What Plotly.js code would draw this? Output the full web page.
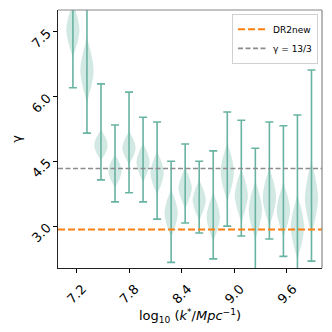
<!DOCTYPE html>
<html>
<head>
<meta charset="utf-8">
<script src="https://cdn.plot.ly/plotly-3.0.1.min.js"></script>
<style>
html, body { margin: 0; padding: 0; background: #fff; }
#tester { width: 332px; height: 332px; }
</style>
</head>
<body>
<div id="tester"></div>
<script>
// bin centres, log10(k*/Mpc^-1)
let bin_positions = [7.16, 7.32, 7.48, 7.64, 7.80, 7.96, 8.12, 8.28, 8.44, 8.60, 8.76, 8.92, 9.08, 9.24, 9.40, 9.56, 9.72, 9.88];

// extrema of gamma in each bin (caps)
let gamma_min = [6.20, 5.15, 4.07, 3.56, 3.77, 3.56, 3.16, 2.16, 3.07, 2.84, 2.24, 3.00, 2.77, 1.80, 2.70, 2.30, 1.80, 2.19];
let gamma_max = [8.40, 8.30, 6.29, 5.34, 6.10, 5.52, 5.41, 4.50, 4.90, 4.50, 4.74, 5.64, 5.45, 4.80, 5.41, 5.32, 5.57, 6.61];

// samples for the violin bodies, one list per bin
let gamma_samples = [
	[7.15, 7.32, 7.44, 7.54, 7.64, 7.76, 7.93],
	[6.15, 6.35, 6.49, 6.61, 6.73, 6.87, 7.07],
	[4.65, 4.74, 4.81, 4.87, 4.93, 5.00, 5.09],
	[4.03, 4.13, 4.21, 4.27, 4.33, 4.41, 4.51],
	[4.57, 4.67, 4.75, 4.81, 4.87, 4.95, 5.05],
	[4.19, 4.31, 4.40, 4.47, 4.54, 4.63, 4.75],
	[3.92, 4.05, 4.15, 4.23, 4.31, 4.41, 4.54],
	[2.95, 3.10, 3.21, 3.30, 3.39, 3.50, 3.65],
	[3.59, 3.71, 3.81, 3.88, 3.95, 4.05, 4.17],
	[3.31, 3.43, 3.53, 3.60, 3.67, 3.77, 3.89],
	[2.86, 3.01, 3.12, 3.21, 3.30, 3.41, 3.56],
	[3.83, 4.01, 4.14, 4.25, 4.36, 4.49, 4.67],
	[3.33, 3.49, 3.62, 3.71, 3.80, 3.93, 4.09],
	[2.95, 3.13, 3.26, 3.37, 3.48, 3.61, 3.79],
	[3.25, 3.43, 3.56, 3.67, 3.78, 3.91, 4.09],
	[2.98, 3.15, 3.27, 3.37, 3.47, 3.59, 3.76],
	[2.52, 2.72, 2.86, 2.98, 3.10, 3.24, 3.44],
	[3.12, 3.35, 3.52, 3.65, 3.78, 3.95, 4.18]
];
let kde_bandwidth = [0.14, 0.17, 0.08, 0.085, 0.085, 0.10, 0.11, 0.125, 0.105, 0.105, 0.125, 0.15, 0.135, 0.15, 0.15, 0.14, 0.165, 0.19];

// reference lines
let gamma_dr2new = 2.92;
let gamma_theory = 13 / 3;

let x_tick_vals = [7.2, 7.8, 8.4, 9.0, 9.6];
let x_tick_text = ['7.2', '7.8', '8.4', '9.0', '9.6'];
let y_tick_vals = [3.0, 4.5, 6.0, 7.5];
let y_tick_text = ['3.0', '4.5', '6.0', '7.5'];

let x_range = [6.99, 10.0];
let y_range = [2.03, 8.0];

let teal = '#69b3a2';

let plotData = [];

for( i = 0 ; i < bin_positions.length ; i++ )
{
	plotData.push
	(
		{
			type: 'violin',
			x0: bin_positions[i],
			y: gamma_samples[i],
			orientation: 'v',
			width: 0.15,
			scalemode: 'width',
			bandwidth: kde_bandwidth[i],
			spanmode: 'manual',
			span: [gamma_min[i], gamma_max[i]],
			points: false,
			box: {visible: false},
			meanline: {visible: false},
			line: {width: 0, color: 'rgba(105,179,162,0)'},
			fillcolor: 'rgba(105,179,162,0.3)',
			showlegend: false,
			hoverinfo: 'skip'
		}
	)
}

// extrema bars with caps
let bar_len = [];
let bar_zero = [];
for( i = 0 ; i < gamma_min.length ; i++ )
{
	bar_len.push(gamma_max[i] - gamma_min[i]);
	bar_zero.push(0);
}

plotData.push
(
	{
		type: 'scatter',
		mode: 'markers',
		x: bin_positions,
		y: gamma_min,
		marker: {size: 1, color: 'rgba(0,0,0,0)'},
		error_y: {type: 'data', symmetric: false, array: bar_len, arrayminus: bar_zero, color: teal, thickness: 1.6, width: 4},
		showlegend: false,
		hoverinfo: 'skip'
	}
)

plotData.push
(
	{
		type: 'scatter',
		mode: 'lines',
		name: 'DR2new',
		x: x_range,
		y: [gamma_dr2new, gamma_dr2new],
		line: {color: '#ff7f0e', width: 2, dash: '7px,3px'}
	}
)

plotData.push
(
	{
		type: 'scatter',
		mode: 'lines',
		name: 'γ = 13/3',
		x: x_range,
		y: [gamma_theory, gamma_theory],
		line: {color: '#8c8c8c', width: 1.6, dash: '5px,2.5px'}
	}
)

target_div = document.getElementById('tester');

let layout =
{
	width: 332,
	height: 332,
	paper_bgcolor: '#fff',
	plot_bgcolor: '#fff',
	font: {family: 'DejaVu Sans', color: '#000', size: 12},
	violinmode: 'overlay',
	margin: {l: 58, r: 10, t: 10, b: 64, pad: 0},
	xaxis: {
		type: 'linear', range: x_range, tickvals: x_tick_vals, ticktext: x_tick_text,
		tickangle: -45, ticks: 'outside', ticklen: 4, tickcolor: '#000', tickwidth: 1,
		showline: true, linecolor: '#222', linewidth: 1.2, showgrid: false, zeroline: false,
		tickfont: {size: 13}, ticklabelshift: 6, ticklabelstandoff: 3,
		title: {text: 'log<sub>10</sub> (<i>k</i><sup>*</sup>/<i>Mpc</i><sup>−1</sup>)', font: {size: 13}, standoff: 2}
	},
	yaxis: {
		type: 'linear', range: y_range, tickvals: y_tick_vals, ticktext: y_tick_text,
		tickangle: -45, ticks: 'outside', ticklen: 4, tickcolor: '#000', tickwidth: 1,
		showline: true, linecolor: '#222', linewidth: 1.2, showgrid: false, zeroline: false,
		tickfont: {size: 13}, ticklabelstandoff: 3,
		title: {text: 'γ', font: {size: 13}, standoff: 4}
	},
	shapes: [
		{type: 'line', xref: 'paper', yref: 'paper', x0: 0, x1: 1, y0: 1, y1: 1, line: {color: '#888', width: 1.2}},
		{type: 'line', xref: 'paper', yref: 'paper', x0: 1, x1: 1, y0: 0, y1: 1, line: {color: '#888', width: 1.2}}
	],
	legend: {
		x: 0.985, y: 0.985, xanchor: 'right', yanchor: 'top',
		bgcolor: 'rgba(255,255,255,0.85)', bordercolor: '#d0d0d0', borderwidth: 1,
		font: {size: 9}, itemwidth: 30, tracegroupgap: 0
	}
}

Plotly.newPlot(target_div, plotData, layout, {staticPlot: true});
</script>
</body>
</html>
